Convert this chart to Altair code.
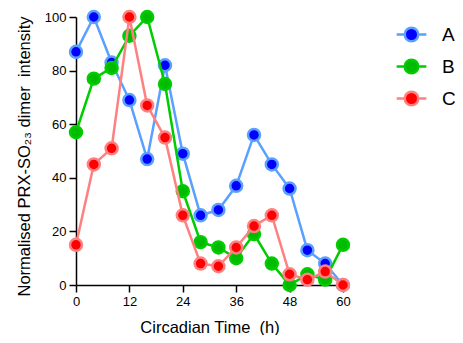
import altair as alt
import pandas as pd

times = [0, 4, 8, 12, 16, 20, 24, 28, 32, 36, 40, 44, 48, 52, 56, 60]
series_names = ["A", "B", "C"]
values_A = [87, 100, 83, 69, 47, 82, 49, 26, 28, 37, 56, 45, 36, 13, 8, 0]
values_B = [57, 77, 81, 93, 100, 75, 35, 16, 14, 10, 19, 8, 0, 4, 2, 15]
values_C = [15, 45, 51, 100, 67, 55, 26, 8, 7, 14, 22, 26, 4, 2, 5, 0]
x_ticks = [0, 12, 24, 36, 48, 60]
y_ticks = [0, 20, 40, 60, 80, 100]

fill_colors = ["#0000ff", "#00bb00", "#ff0000"]
stroke_colors = ["#5aa0ff", "#00cc00", "#ff8080"]

rows = []
for name, vals in zip(series_names, [values_A, values_B, values_C]):
    for t, v in zip(times, vals):
        rows.append({"series": name, "time": t, "value": v})
df = pd.DataFrame(rows)

sym_path = "M-2.2,0H-1M1,0H2.2M1,0A1,1,0,1,1,-1,0A1,1,0,1,1,1,0Z"
legend = alt.Legend(
    title=None, orient="none", legendX=326, legendY=8,
    symbolType=sym_path, symbolSize=182, symbolStrokeWidth=2.5,
    labelFontSize=19, labelFont="Liberation Sans", labelColor="black",
    labelOffset=21, rowPadding=7, padding=0,
)

x_enc = alt.X("time:Q", scale=alt.Scale(domain=[0, 60], nice=False),
              axis=alt.Axis(values=x_ticks, title="Circadian Time\u00a0\u00a0(h)"))
y_enc = alt.Y("value:Q", scale=alt.Scale(domain=[0, 100], nice=False),
              axis=alt.Axis(values=y_ticks, title="Normalised PRX-SO\u2082\u2083 dimer\u00a0\u00a0intensity",
                            titleY=139))
stroke_enc = alt.Stroke("series:N", scale=alt.Scale(domain=series_names, range=stroke_colors), legend=legend)
fill_enc = alt.Fill("series:N", scale=alt.Scale(domain=series_names, range=fill_colors), legend=legend)

base = alt.Chart(df)
layers = []
for name in series_names:
    sub = base.transform_filter(alt.datum.series == name)
    layers.append(sub.mark_line(strokeWidth=2.5).encode(x=x_enc, y=y_enc, stroke=stroke_enc))
    layers.append(sub.mark_point(filled=False, size=143, strokeWidth=2.5, opacity=1, fillOpacity=1, shape="circle").encode(
        x=x_enc, y=y_enc, stroke=stroke_enc, fill=fill_enc))

chart = alt.layer(*layers).properties(
    width=267, height=268,
    autosize=alt.AutoSizeParams(type="none"),
    padding={"left": 68, "top": 9, "right": 112, "bottom": 50},
).configure_view(stroke=None).configure_axis(
    grid=False, domainColor="black", domainWidth=1.5, tickColor="black", tickWidth=1.5,
    tickSize=7, labelFont="Liberation Sans", labelFontSize=13, labelColor="black",
    titleFont="Liberation Sans", titleFontSize=16.5, titleFontWeight="normal", titleColor="black",
    labelPadding=3, labelFlush=False,
).configure_axisY(titlePadding=12).configure_axisX(titlePadding=11)

chart.save("out.html", embed_options={"renderer": "svg", "actions": False})
